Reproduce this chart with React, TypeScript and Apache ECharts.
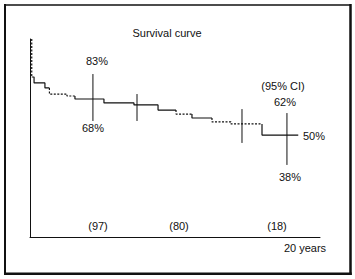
import React, { useEffect, useRef } from "react";
import * as echarts from "echarts";

// Kaplan–Meier style step curve (years, survival %)
const startLevel = 100;
const stepTimes = [0.12, 0.28, 1.03, 1.34, 2.55, 3.1, 5.1, 7.17, 8.83, 10.07, 11.17, 12.55, 13.86, 16.0];
const stepLevels = [80.8, 77.8, 75.3, 72.2, 71.2, 69.7, 67.7, 66.7, 64.1, 62.1, 60.1, 58.1, 57.1, 51.5];
const dropDashed = [true, false, false, true, true, false, false, false, false, true, false, true, true, false];
const runDashed = [false, false, false, true, true, false, false, false, false, true, false, true, true, false];
const endTime = 18.5;

// vertical confidence / marker bars
const barTimes = [4.34, 7.38, 14.62, 17.72];
const barLow = [58.6, 58.6, 47.5, 36.4];
const barHigh = [82.3, 72.2, 64.6, 62.6];

// annotation labels
const annTexts = ["83%", "68%", "(95% CI)", "62%", "50%", "38%"];
const annTimes = [4.6, 4.34, 17.45, 17.59, 18.83, 17.93];
const annValues = [88.9, 55.1, 76.3, 68.2, 51.0, 30.3];

// numbers at risk
const riskTexts = ["(97)", "(80)", "(18)"];
const riskTimes = [4.72, 10.31, 17.0];
const riskValue = 5.6;

const titleText = "Survival curve";
const axisEndText = "20 years";

const INK = "#111";
const FONT = "'Liberation Sans', Arial, sans-serif";

export default function App() {
  const ref = useRef<HTMLDivElement>(null);
  useEffect(() => {
    const chart = echarts.init(ref.current!, null, { renderer: "svg" });

    type Piece = { pts: number[][]; dashed: boolean };
    const pieces: Piece[] = [];
    let prev = startLevel;
    for (let i = 0; i < stepTimes.length; i++) {
      const t = stepTimes[i];
      const next = i + 1 < stepTimes.length ? stepTimes[i + 1] : endTime;
      pieces.push({ pts: [[t, prev], [t, stepLevels[i]]], dashed: dropDashed[i] });
      pieces.push({ pts: [[t, stepLevels[i]], [next, stepLevels[i]]], dashed: runDashed[i] });
      prev = stepLevels[i];
    }
    const merged: Piece[] = [];
    for (const p of pieces) {
      const last = merged[merged.length - 1];
      if (last && last.dashed === p.dashed) {
        last.pts.push(p.pts[1]);
      } else {
        merged.push({ pts: [p.pts[0], p.pts[1]], dashed: p.dashed });
      }
    }

    const curveSeries = merged.map((m) => ({
      type: "line",
      data: m.pts,
      symbol: "none",
      silent: true,
      lineStyle: { color: INK, width: 1.2, type: m.dashed ? [2, 1.5] : "solid" },
      z: 3,
    }));

    const barSeries = barTimes.map((t, i) => ({
      type: "line",
      data: [[t, barLow[i]], [t, barHigh[i]]],
      symbol: "none",
      silent: true,
      lineStyle: { color: INK, width: 1 },
      z: 4,
    }));

    const textEl = (x: number, y: number, text: string, align: string) => ({
      type: "text",
      x: Math.round(x),
      y: Math.round(y),
      silent: true,
      style: { text, fill: INK, font: `11px ${FONT}`, align, verticalAlign: "middle" },
    });

    const frame = [
      { type: "line", shape: { x1: 4, y1: 5, x2: 351, y2: 5 }, style: { stroke: INK, lineWidth: 1.5 } },
      { type: "line", shape: { x1: 5, y1: 4, x2: 5, y2: 275 }, style: { stroke: INK, lineWidth: 2 } },
      { type: "line", shape: { x1: 350.5, y1: 4, x2: 350.5, y2: 275 }, style: { stroke: INK, lineWidth: 2.5 } },
      { type: "line", shape: { x1: 4, y1: 273.8, x2: 351.7, y2: 273.8 }, style: { stroke: INK, lineWidth: 2.5 } },
      textEl(167, 33, titleText, "center"),
      textEl(305, 248, axisEndText, "center"),
    ];

    const option: any = {
      animation: false,
      backgroundColor: "#fff",
      grid: { left: 30, right: 35, top: 39, bottom: 42 },
      xAxis: {
        type: "value",
        min: 0,
        max: 20,
        axisLine: { show: true, lineStyle: { color: INK, width: 1 } },
        axisTick: { show: false },
        axisLabel: { show: false },
        splitLine: { show: false },
      },
      yAxis: {
        type: "value",
        min: 0,
        max: 100,
        axisLine: { show: true, lineStyle: { color: INK, width: 1 } },
        axisTick: { show: false },
        axisLabel: { show: false },
        splitLine: { show: false },
      },
      graphic: frame,
      series: [...curveSeries, ...barSeries],
    };
    chart.setOption(option);

    const labels: any[] = [];
    annTexts.forEach((s, i) => {
      const [px, py] = chart.convertToPixel({ gridIndex: 0 }, [annTimes[i], annValues[i]]) as number[];
      labels.push(textEl(px, py, s, s === "50%" ? "left" : "center"));
    });
    riskTexts.forEach((s, i) => {
      const [px, py] = chart.convertToPixel({ gridIndex: 0 }, [riskTimes[i], riskValue]) as number[];
      labels.push(textEl(px, py, s, "center"));
    });
    chart.setOption({ graphic: [...frame, ...labels] });

    return () => chart.dispose();
  }, []);
  return (
    <div
      ref={ref}
      style={{ position: "absolute", left: 0, top: 0, width: 355, height: 279, background: "#fff" }}
    />
  );
}
